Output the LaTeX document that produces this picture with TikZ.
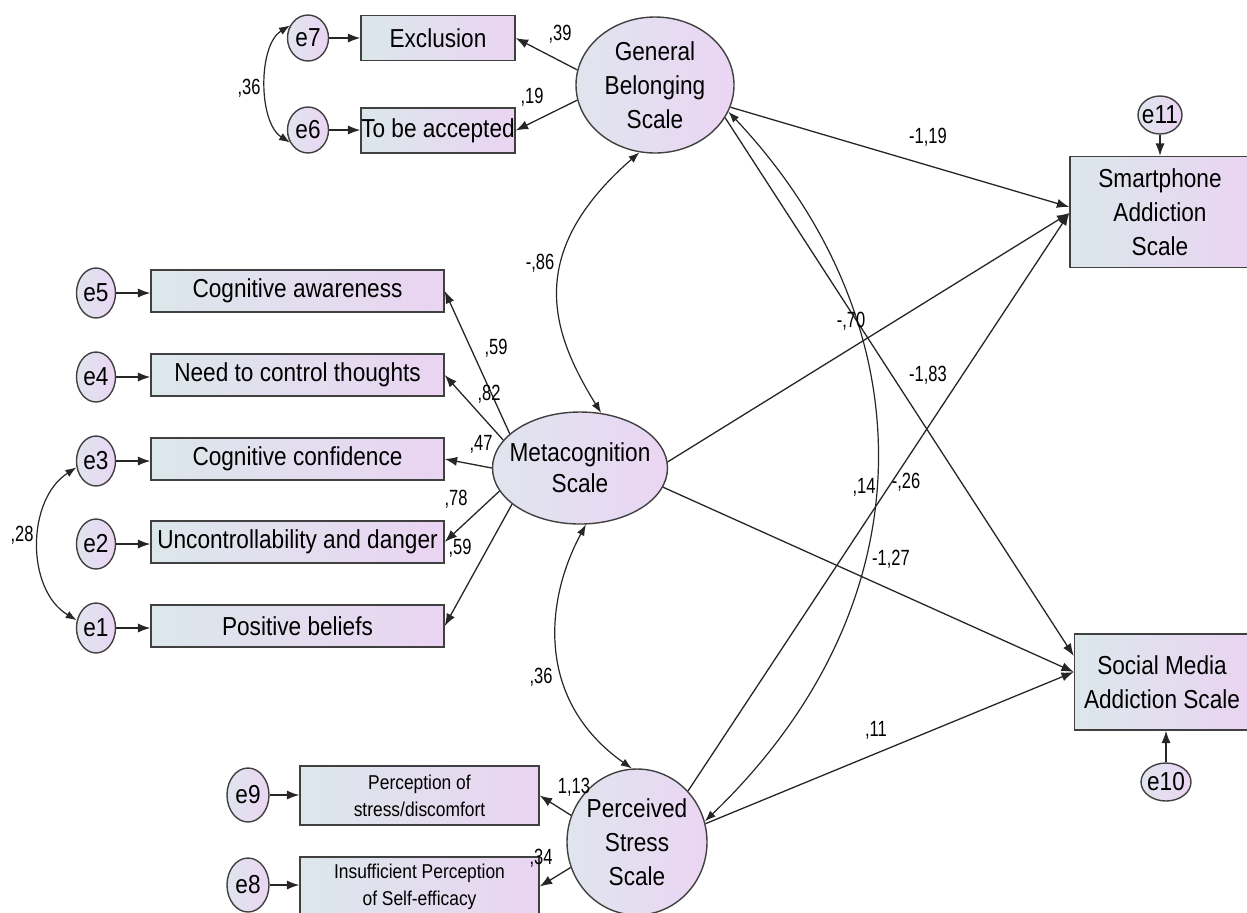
\documentclass[tikz,border=0pt]{standalone}
\usepackage{fontspec}
\setmainfont{Liberation Sans}[FakeStretch=0.87]
\newfontfamily\lblfont{Liberation Sans}[FakeStretch=0.75]
\usetikzlibrary{shapes.geometric,arrows.meta,calc}
\definecolor{boxL}{HTML}{DCE7EB}
\definecolor{boxR}{HTML}{EAD4F2}
\definecolor{ellL}{HTML}{E0E5EE}
\definecolor{ellR}{HTML}{EBD5F3}
\definecolor{edge}{HTML}{404040}
\newcommand\mainsz{\fontsize{13pt}{17pt}\selectfont}
\newcommand\metasz{\fontsize{13pt}{15.5pt}\selectfont}
\newcommand\smallsz{\fontsize{10pt}{13.5pt}\selectfont}
\newcommand\lblsz{\lblfont\fontsize{11pt}{12pt}\selectfont}
\tikzset{
  obsbox/.style={rectangle, draw=edge, line width=0.7pt, left color=boxL, right color=boxR,
    inner sep=0pt, align=center, font=\mainsz},
  latent/.style={ellipse, draw=edge, line width=0.7pt, left color=ellL, right color=ellR,
    inner sep=-6pt, align=center, font=\mainsz},
  errnode/.style={ellipse, draw=edge, line width=0.7pt, left color=ellL, right color=ellR,
    inner sep=-2pt, align=center, font=\mainsz},
  regpath/.style={draw=black!85, line width=0.65pt, -{Latex[length=6.2pt,width=4.6pt]}},
  covpath/.style={draw=black!85, line width=0.6pt, {Latex[length=5.5pt,width=4pt]}-{Latex[length=5.5pt,width=4pt]}},
  coef/.style={inner sep=0pt, font=\lblsz}
}
\begin{document}
\begin{tikzpicture}[x=0.5pt,y=-0.5pt]
\useasboundingbox (0,0) rectangle (1247,912);

% latent variables
\node[latent, minimum width=79pt, minimum height=68pt] (gbs) at (655,85) {General\\Belonging\\Scale};
\node[latent, minimum width=87.5pt, minimum height=56pt, font=\metasz] (meta) at (580,468) {Metacognition\\Scale};
\node[latent, minimum width=70pt, minimum height=73pt] (pss) at (637,842) {Perceived\\Stress\\Scale};

% outcome boxes
\node[obsbox, minimum width=90pt, minimum height=55.5pt] (smart) at (1160,212) {Smartphone\\Addiction\\Scale};
\node[obsbox, minimum width=87.5pt, minimum height=48pt] (social) at (1162,682) {Social Media\\Addiction Scale};
\node[errnode, minimum width=22pt, minimum height=19pt] (e11) at (1160,115) {e11};
\node[errnode, minimum width=25pt, minimum height=19pt] (e10) at (1166,782) {e10};

% belonging indicators
\node[obsbox, minimum width=77pt, minimum height=22.5pt] (excl) at (438,38) {Exclusion};
\node[obsbox, minimum width=77pt, minimum height=22.5pt] (acc) at (438,130.5) {To be accepted};
\node[errnode, minimum width=20.5pt, minimum height=23pt] (e7) at (308,38) {e7};
\node[errnode, minimum width=20.5pt, minimum height=23pt] (e6) at (308,130) {e6};

% metacognition indicators
\node[obsbox, minimum width=146.5pt, minimum height=21pt] (b5) at (297.5,291) {Cognitive awareness};
\node[obsbox, minimum width=146.5pt, minimum height=21pt] (b4) at (297.5,375) {Need to control thoughts};
\node[obsbox, minimum width=146.5pt, minimum height=21pt] (b3) at (297.5,459) {Cognitive confidence};
\node[obsbox, minimum width=146.5pt, minimum height=21pt] (b2) at (297.5,542) {Uncontrollability and danger};
\node[obsbox, minimum width=146.5pt, minimum height=21pt] (b1) at (297.5,626) {Positive beliefs};
\node[errnode, minimum width=19.5pt, minimum height=25pt] (e5) at (96,293) {e5};
\node[errnode, minimum width=19.5pt, minimum height=25pt] (e4) at (96,377) {e4};
\node[errnode, minimum width=19.5pt, minimum height=25pt] (e3) at (96,461) {e3};
\node[errnode, minimum width=19.5pt, minimum height=25pt] (e2) at (96,544) {e2};
\node[errnode, minimum width=19.5pt, minimum height=25pt] (e1) at (96,628) {e1};

% stress indicators
\node[obsbox, minimum width=119.5pt, minimum height=29.5pt, font=\smallsz] (perc) at (419.5,795.5) {Perception of\\stress/discomfort};
\node[obsbox, minimum width=119.5pt, minimum height=29.5pt, font=\smallsz] (insuf) at (419.5,886.5) {Insufficient Perception\\of Self-efficacy};
\node[errnode, minimum width=21pt, minimum height=27pt] (e9) at (248,795) {e9};
\node[errnode, minimum width=21pt, minimum height=27pt] (e8) at (248,885) {e8};

% coordinates for arrow ends
\coordinate (sw1) at ([yshift=2.5pt]smart.west);
\coordinate (sw2) at ([yshift=-0.5pt]smart.west);
\coordinate (mw1) at ([yshift=13pt]social.west);
\coordinate (mw2) at ([yshift=5pt]social.west);

% error arrows
\draw[regpath] (e7) -- (e7 -| excl.west);
\draw[regpath] (e6) -- (e6 -| acc.west);
\draw[regpath] (e5) -- (e5 -| b5.west);
\draw[regpath] (e4) -- (e4 -| b4.west);
\draw[regpath] (e3) -- (e3 -| b3.west);
\draw[regpath] (e2) -- (e2 -| b2.west);
\draw[regpath] (e1) -- (e1 -| b1.west);
\draw[regpath] (e9) -- (e9 -| perc.west);
\draw[regpath] (e8) -- (e8 -| insuf.west);
\draw[regpath] (e11) -- (e11 |- smart.north);
\draw[regpath] (e10) -- (e10 |- social.south);

% loadings
\draw[regpath] (gbs.169) -- (excl.east);
\draw[regpath] (gbs.191) -- (acc.east);
\draw[regpath] (meta.154) -- (b5.east);
\draw[regpath] (meta.160) -- (b4.east);
\draw[regpath] (meta.180) -- (b3.east);
\draw[regpath] (meta.196) -- (b2.east);
\draw[regpath] (meta.208) -- (b1.east);
\draw[regpath] (pss.158) -- (perc.east);
\draw[regpath] (pss.201) -- (insuf.east);

% structural paths
\draw[regpath] (gbs) -- (sw1);
\draw[regpath] (meta.4) -- (sw2);
\draw[regpath] (pss.45) -- (sw2);
\draw[regpath] (gbs.335) -- (mw1);
\draw[regpath] (meta.347) -- (mw2);
\draw[regpath] (pss.15) -- (mw2);

% covariances
\draw[covpath] (e7.145) .. controls (258,45) and (258,122) .. (e6.215);
\draw[covpath] (e3.198) .. controls (26,500) and (26,590) .. (e1.158);
\draw[covpath] (gbs.257) .. controls (524,253) and (551,332) .. (meta.69);
\draw[covpath] (meta.276) .. controls (545,600) and (535,700) .. (pss.94);
\draw[covpath] (gbs.340) .. controls (925,320) and (935,600) .. (pss.17);

% coefficients
\node[coef] (c1) at (249,88) {,36};
\node[coef] (c2) at (560,34) {,39};
\node[coef] (c3) at (532,97) {,19};
\node[coef] (c4) at (540,263) {-,86};
\node[coef] (c5) at (928,137) {-1,19};
\node[coef] (c6) at (851,321) {-,70};
\node[coef] (c7) at (928,375) {-1,83};
\node[coef] (c8) at (864,487) {,14};
\node[coef] (c9) at (906,482) {-,26};
\node[coef] (c10) at (891,559) {-1,27};
\node[coef] (c11) at (876,730) {,11};
\node[coef] (c12) at (496,348) {,59};
\node[coef] (c13) at (489,394) {,82};
\node[coef] (c14) at (481,444) {,47};
\node[coef] (c15) at (456,499) {,78};
\node[coef] (c16) at (460,548) {,59};
\node[coef] (c17) at (22,535) {,28};
\node[coef] (c18) at (541,677) {,36};
\node[coef] (c19) at (574,787) {1,13};
\node[coef] (c20) at (541,858) {,34};
\end{tikzpicture}
\end{document}
